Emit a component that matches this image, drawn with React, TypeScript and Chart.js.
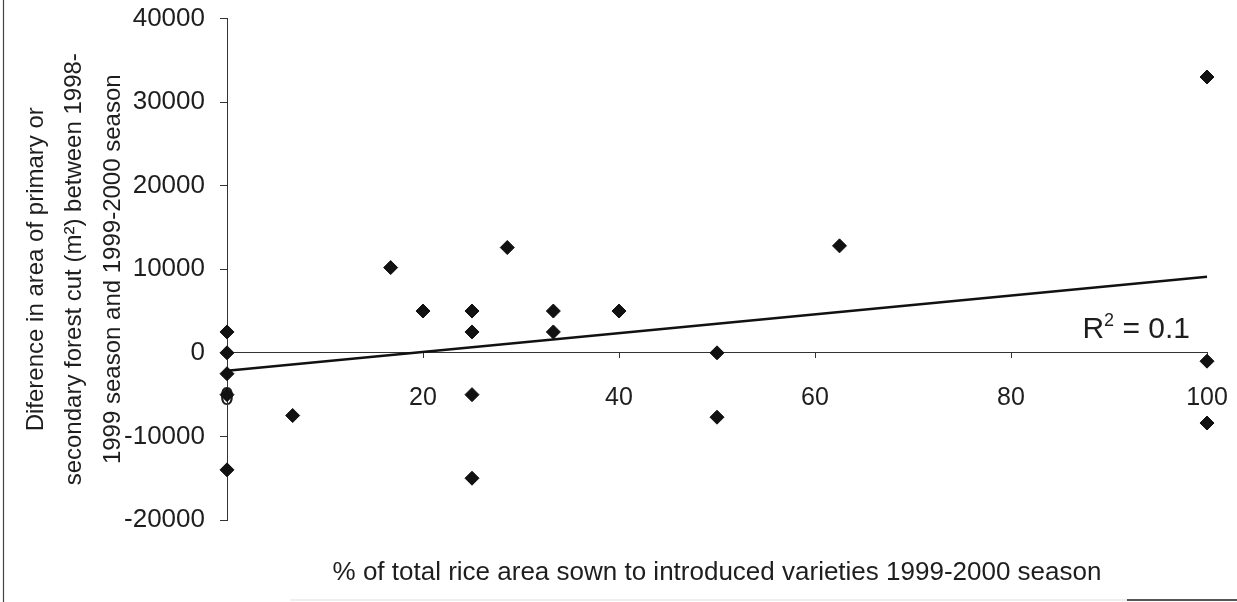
import React, { useEffect, useRef } from "react";
import { Chart, registerables } from "chart.js";

Chart.register(...registerables);

// ---- data ----
const pctIntroduced = [0, 0, 0, 0, 0, 6.7, 16.7, 20, 25, 25, 25, 25, 28.6, 33.3, 33.3, 40, 50, 50, 62.5, 100, 100, 100];
const forestDiff = [2500, 0, -2500, -5000, -14000, -7500, 10200, 5000, 5000, 2500, -5000, -15000, 12600, 5000, 2500, 5000, 0, -7700, 12800, 33000, -1000, -8400];

const trendX = [0, 100];
const trendY = [-2150, 9100];

const xTickValues = [0, 20, 40, 60, 80, 100];
const yTickValues = [-20000, -10000, 0, 10000, 20000, 30000, 40000];

const r2Text = "0.1";

const xTitle = "% of total rice area sown to introduced varieties 1999-2000 season";
const yTitle = [
  "Diference in area of primary or",
  "secondary forest cut (m\u00B2) between 1998-",
  "1999 season and 1999-2000 season",
];

const FONT = "'Liberation Sans', Arial, sans-serif";
const INK = "#1e1e1e";

const decorPlugin = {
  id: "decor",
  beforeDraw(chart: any) {
    const ctx = chart.ctx;
    ctx.save();
    ctx.fillStyle = "#fff";
    ctx.fillRect(0, 0, chart.width, chart.height);
    ctx.strokeStyle = "#444";
    ctx.lineWidth = 1.2;
    ctx.beginPath();
    ctx.moveTo(3.5, 0);
    ctx.lineTo(3.5, chart.height);
    ctx.stroke();
    ctx.strokeStyle = "#eeeeee";
    ctx.lineWidth = 2;
    ctx.beginPath();
    ctx.moveTo(290, chart.height - 2);
    ctx.lineTo(1127, chart.height - 2);
    ctx.stroke();
    ctx.strokeStyle = "#555";
    ctx.beginPath();
    ctx.moveTo(1127, chart.height - 2);
    ctx.lineTo(chart.width, chart.height - 2);
    ctx.stroke();
    ctx.restore();
  },
  afterDraw(chart: any) {
    const ctx = chart.ctx;
    const area = chart.chartArea;
    const yScale = chart.scales.y;
    ctx.save();
    ctx.fillStyle = INK;
    ctx.textBaseline = "alphabetic";
    ctx.textAlign = "left";
    const baseline = yScale.getPixelForValue(0) - 15;
    const big = `30px ${FONT}`;
    const small = `18px ${FONT}`;
    ctx.font = big;
    const wR = ctx.measureText("R").width;
    const wRest = ctx.measureText(" = " + r2Text).width;
    ctx.font = small;
    const w2 = ctx.measureText("2").width;
    const right = area.right - 17;
    let x = right - (wR + w2 + wRest);
    ctx.font = big;
    ctx.fillText("R", x, baseline);
    x += wR;
    ctx.font = small;
    ctx.fillText("2", x, baseline - 12);
    x += w2;
    ctx.font = big;
    ctx.fillText(" = " + r2Text, x, baseline);
    ctx.restore();
  },
};

export default function App() {
  const ref = useRef<HTMLCanvasElement>(null);

  useEffect(() => {
    const points = pctIntroduced.map((x, i) => ({ x, y: forestDiff[i] }));
    const trend = trendX.map((x, i) => ({ x, y: trendY[i] }));

    const chart = new Chart(ref.current as HTMLCanvasElement, {
      type: "scatter",
      data: {
        datasets: [
          {
            data: points,
            pointStyle: "rectRot",
            pointRadius: 7,
            pointHoverRadius: 7,
            backgroundColor: "#111",
            borderColor: "#111",
            borderWidth: 1,
            clip: false,
          },
          {
            data: trend,
            showLine: true,
            pointRadius: 0,
            borderColor: "#111",
            borderWidth: 2.5,
            fill: false,
            clip: false,
          },
        ],
      },
      options: {
        responsive: false,
        animation: false,
        devicePixelRatio: 1,
        layout: { autoPadding: false, padding: { left: 0, right: 30, top: 18.5, bottom: 0 } },
        plugins: {
          legend: { display: false },
          tooltip: { enabled: false },
          title: {
            display: true,
            position: "bottom",
            fullSize: false,
            text: xTitle,
            color: INK,
            font: { family: FONT, size: 26, weight: "normal", lineHeight: 1.2 },
            padding: { top: 37.4, bottom: 13.4 },
          },
        },
        scales: {
          x: {
            type: "linear",
            position: { y: 0 } as any,
            min: xTickValues[0],
            max: xTickValues[xTickValues.length - 1],
            afterBuildTicks: (scale: any) => {
              scale.ticks = xTickValues.map((v) => ({ value: v }));
            },
            afterFit: (scale: any) => {
              scale.paddingLeft = 0;
              scale.paddingRight = 0;
              scale.paddingTop = 0;
              scale.paddingBottom = 0;
            },
            grid: {
              drawOnChartArea: false,
              drawTicks: true,
              tickLength: 5,
              color: "#333",
            },
            border: { display: true, color: "#333", width: 1 },
            ticks: {
              color: INK,
              font: { family: FONT, size: 25 },
              padding: 25,
              maxRotation: 0,
              autoSkip: false,
              callback: (v: any) => String(v),
            },
          },
          y: {
            type: "linear",
            position: "left",
            min: yTickValues[0],
            max: yTickValues[yTickValues.length - 1],
            afterBuildTicks: (scale: any) => {
              scale.ticks = yTickValues.map((v) => ({ value: v }));
            },
            afterFit: (scale: any) => {
              scale.width = 227;
              scale.paddingLeft = 0;
              scale.paddingRight = 0;
              scale.paddingTop = 0;
              scale.paddingBottom = 0;
            },
            grid: {
              drawOnChartArea: false,
              drawTicks: true,
              tickLength: 7,
              color: "#333",
            },
            border: { display: true, color: "#333", width: 1 },
            ticks: {
              color: INK,
              font: { family: FONT, size: 26 },
              padding: 15,
              autoSkip: false,
              callback: (v: any) => String(v),
            },
            title: {
              display: true,
              text: yTitle,
              color: INK,
              font: { family: FONT, size: 24, lineHeight: 1.6 },
              padding: { top: 17, bottom: 0 },
            },
          },
        },
      },
      plugins: [decorPlugin],
    } as any);

    return () => chart.destroy();
  }, []);

  return (
    <div style={{ position: "fixed", left: 0, top: 0, width: 1237, height: 602, background: "#fff" }}>
      <canvas ref={ref} width={1237} height={602} style={{ display: "block", width: 1237, height: 602 }} />
    </div>
  );
}
